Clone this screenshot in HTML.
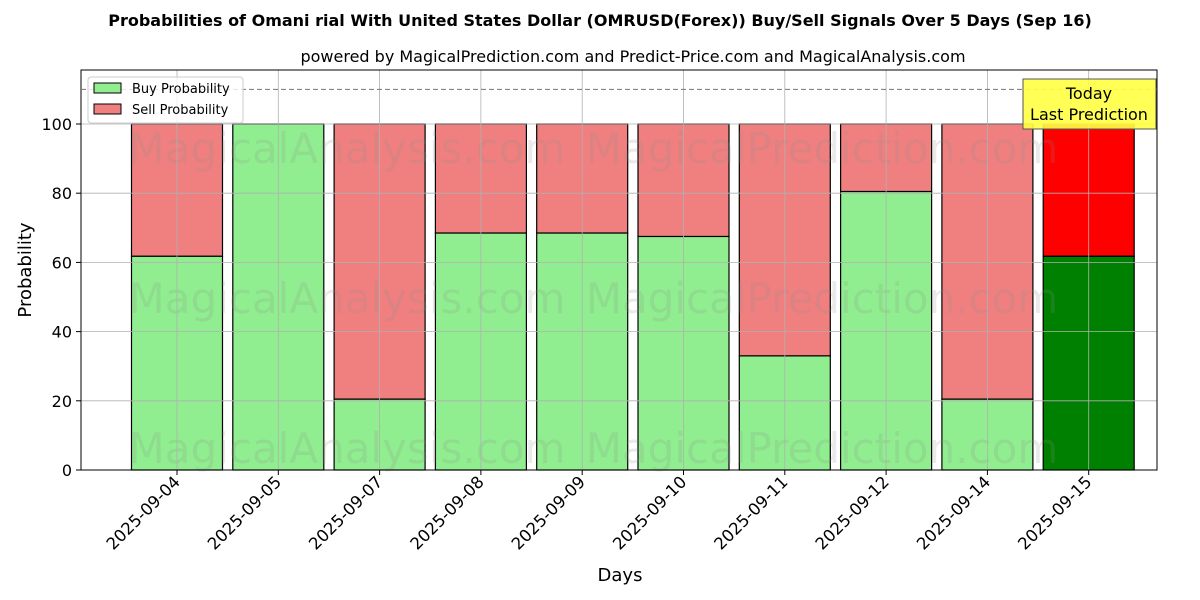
<!DOCTYPE html>
<html><head><meta charset="utf-8"><style>
body{margin:0;background:#fff;}
svg{display:block;font-family:"DejaVu Sans","Liberation Sans",sans-serif;}
</style></head><body>
<svg id="chart" width="1200" height="600" xmlns="http://www.w3.org/2000/svg">
<text x="600" y="26" text-anchor="middle" font-size="16" font-weight="bold">Probabilities of Omani rial With United States Dollar (OMRUSD(Forex)) Buy/Sell Signals Over 5 Days (Sep 16)</text>
<text x="633" y="62" text-anchor="middle" font-size="16">powered by MagicalPrediction.com and Predict-Price.com and MagicalAnalysis.com</text>
<g id="bars"></g>
<g id="wm" fill="#888" fill-opacity="0.18" font-size="42">
<text x="347" y="163" text-anchor="middle">MagicalAnalysis.com</text>
<text x="822" y="163" text-anchor="middle">MagicalPrediction.com</text>
<text x="347" y="313" text-anchor="middle">MagicalAnalysis.com</text>
<text x="822" y="313" text-anchor="middle">MagicalPrediction.com</text>
<text x="347" y="463" text-anchor="middle">MagicalAnalysis.com</text>
<text x="822" y="463" text-anchor="middle">MagicalPrediction.com</text>
</g>
<g id="grid"></g>
<g id="axes"></g>
<rect x="81" y="70" width="1076" height="400" fill="none" stroke="#000" stroke-width="1"/>
<line x1="81" x2="1157" y1="89.4" y2="89.4" stroke="#777" stroke-dasharray="5,3"/>
<g>
<rect x="1023" y="79" width="133" height="50" fill="#ffff44" stroke="#555" fill-opacity="0.9"/>
<text x="1089" y="99" text-anchor="middle" font-size="16">Today</text>
<text x="1089" y="120" text-anchor="middle" font-size="16">Last Prediction</text>
</g>
<g>
<rect x="88" y="77" width="155" height="46" fill="#fff" fill-opacity="0.8" stroke="#ccc" rx="3"/>
<rect x="94" y="83" width="27" height="10" fill="#90ee90" stroke="#000"/>
<text x="132" y="93" font-size="13">Buy Probability</text>
<rect x="94" y="104" width="27" height="10" fill="#f08080" stroke="#000"/>
<text x="132" y="114" font-size="13">Sell Probability</text>
</g>
<text x="620" y="581" text-anchor="middle" font-size="18">Days</text>
<text transform="translate(31,270) rotate(-90)" text-anchor="middle" font-size="18">Probability</text>
</svg>
<script>
const categories=["2025-09-04","2025-09-05","2025-09-07","2025-09-08","2025-09-09","2025-09-10","2025-09-11","2025-09-12","2025-09-14","2025-09-15"];
const buyValues=[61.8,100,20.5,68.5,68.5,67.5,33,80.5,20.5,61.8];
const sellValues=[38.2,0,79.5,31.5,31.5,32.5,67,19.5,79.5,38.2];
const yTicks=[0,20,40,60,80,100];
const NS="http://www.w3.org/2000/svg";
const x=i=>177+i*101.3;
const y=v=>470-v*3.46;
const bw=91;
function mk(t,a,p){const e=document.createElementNS(NS,t);for(const k in a)e.setAttribute(k,a[k]);p.appendChild(e);return e;}
const bars=document.getElementById('bars'),grid=document.getElementById('grid'),axes=document.getElementById('axes');
categories.forEach((c,i)=>{
 const last=i===categories.length-1;
 const b=mk('rect',{x:x(i)-bw/2,y:y(buyValues[i]),width:bw,height:y(0)-y(buyValues[i]),fill:last?'#008000':'#90ee90',stroke:'#000','stroke-width':1.2},bars);
 
 
 const s=mk('rect',{x:x(i)-bw/2,y:y(buyValues[i]+sellValues[i]),width:bw,height:y(buyValues[i])-y(buyValues[i]+sellValues[i]),fill:last?'#ff0000':'#f08080',stroke:'#000','stroke-width':1.2},bars);
 
 
 const g=mk('line',{x1:x(i),x2:x(i),y1:70,y2:470,stroke:'#b0b0b0','stroke-width':0.8},grid);
 
 
 mk('line',{x1:x(i),x2:x(i),y1:470,y2:475,stroke:'#000'},axes);
 const t=mk('text',{transform:`translate(${x(i)+4},${483}) rotate(-45)`,'text-anchor':'end','font-size':16.5},axes);
 t.textContent=c;
 
 
});
yTicks.forEach(v=>{
 const g=mk('line',{x1:81,x2:1157,y1:y(v),y2:y(v),stroke:'#b0b0b0','stroke-width':0.8},grid);
 
 
 mk('line',{x1:76,x2:81,y1:y(v),y2:y(v),stroke:'#000'},axes);
 const t=mk('text',{x:72,y:y(v)+6,'text-anchor':'end','font-size':16},axes);
 t.textContent=v;
 
 
});
</script>
</body></html>
